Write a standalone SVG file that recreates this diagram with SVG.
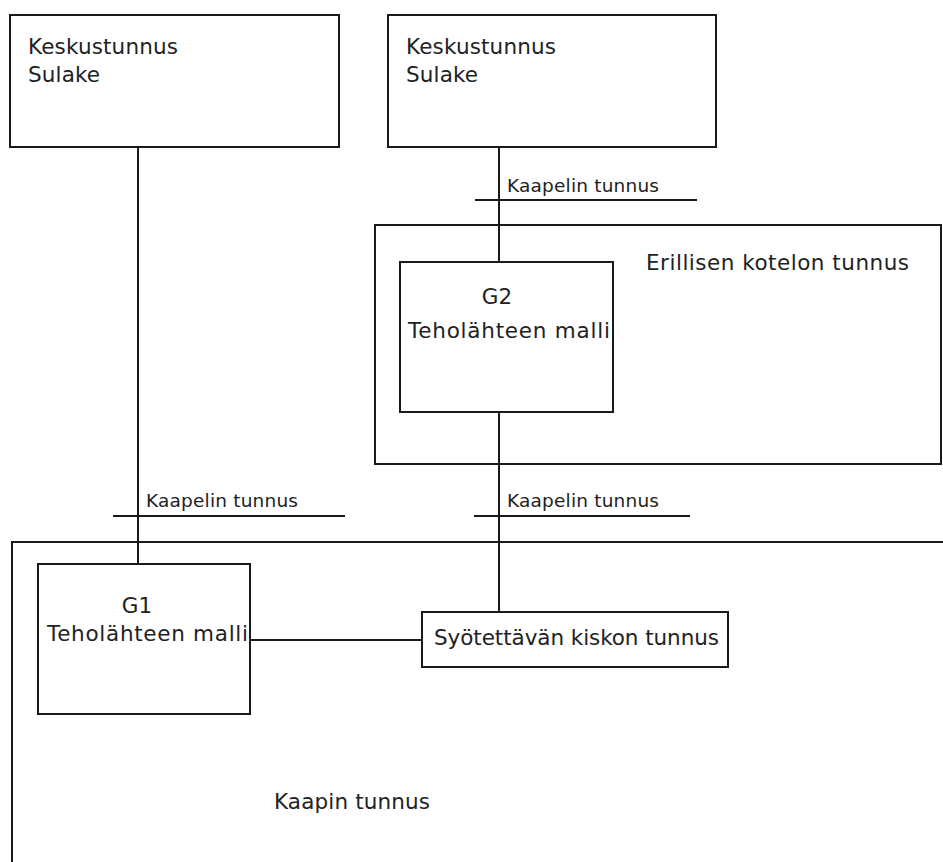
<svg xmlns="http://www.w3.org/2000/svg" width="943" height="862" viewBox="0 0 943 862">
  <style>
    .box { fill: none; stroke: #1a1a1a; stroke-width: 2; }
    .wire { fill: none; stroke: #1a1a1a; stroke-width: 2; }
    .lbl { font-family: "DejaVu Sans", Verdana, sans-serif; font-size: 21.5px; fill: #222; }
    .cab { font-family: "DejaVu Sans", Verdana, sans-serif; font-size: 18.5px; fill: #222; }
  </style>
  <rect width="943" height="862" fill="#ffffff"/>

  <!-- cabinet outline (open to the right and bottom) -->
  <g id="cabinet">
    <path class="box" d="M12,870 V542 H950"/>
    <text class="lbl" x="274" y="809" textLength="156" lengthAdjust="spacing">Kaapin tunnus</text>
  </g>

  <!-- separate enclosure -->
  <g id="enclosure">
    <rect class="box" x="375" y="225" width="566" height="239"/>
    <text class="lbl" x="646" y="270" textLength="263" lengthAdjust="spacing">Erillisen kotelon tunnus</text>
  </g>

  <g id="feeder1">
    <rect class="box" x="10" y="15" width="329" height="132"/>
    <text class="lbl" x="28" y="54" textLength="150" lengthAdjust="spacing">Keskustunnus</text>
    <text class="lbl" x="28" y="82" textLength="72" lengthAdjust="spacing">Sulake</text>
  </g>

  <g id="feeder2">
    <rect class="box" x="388" y="15" width="328" height="132"/>
    <text class="lbl" x="406" y="54" textLength="150" lengthAdjust="spacing">Keskustunnus</text>
    <text class="lbl" x="406" y="82" textLength="72" lengthAdjust="spacing">Sulake</text>
  </g>

  <g id="g2">
    <rect class="box" x="400" y="262" width="213" height="150"/>
    <text class="lbl" x="497" y="304" text-anchor="middle">G2</text>
    <text class="lbl" x="408" y="338" textLength="202" lengthAdjust="spacing">Teholähteen malli</text>
  </g>

  <g id="g1">
    <rect class="box" x="38" y="564" width="212" height="150"/>
    <text class="lbl" x="137" y="613" text-anchor="middle">G1</text>
    <text class="lbl" x="47" y="641" textLength="201" lengthAdjust="spacing">Teholähteen malli</text>
  </g>

  <g id="busbar">
    <rect class="box" x="422" y="612" width="306" height="55"/>
    <text class="lbl" x="434" y="645" textLength="285" lengthAdjust="spacing">Syötettävän kiskon tunnus</text>
  </g>

  <!-- cables with their marker ticks -->
  <g id="connectors">
    <line class="wire" x1="138" y1="147" x2="138" y2="564"/>
    <line class="wire" x1="499" y1="147" x2="499" y2="262"/>
    <line class="wire" x1="499" y1="412" x2="499" y2="612"/>
    <line class="wire" x1="250" y1="640" x2="422" y2="640"/>

    <line class="wire" x1="475" y1="200" x2="697" y2="200"/>
    <line class="wire" x1="113" y1="516" x2="345" y2="516"/>
    <line class="wire" x1="474" y1="516" x2="690" y2="516"/>

    <text class="cab" x="507" y="192" textLength="152" lengthAdjust="spacing">Kaapelin tunnus</text>
    <text class="cab" x="146" y="507" textLength="152" lengthAdjust="spacing">Kaapelin tunnus</text>
    <text class="cab" x="507" y="507" textLength="152" lengthAdjust="spacing">Kaapelin tunnus</text>
  </g>
</svg>
